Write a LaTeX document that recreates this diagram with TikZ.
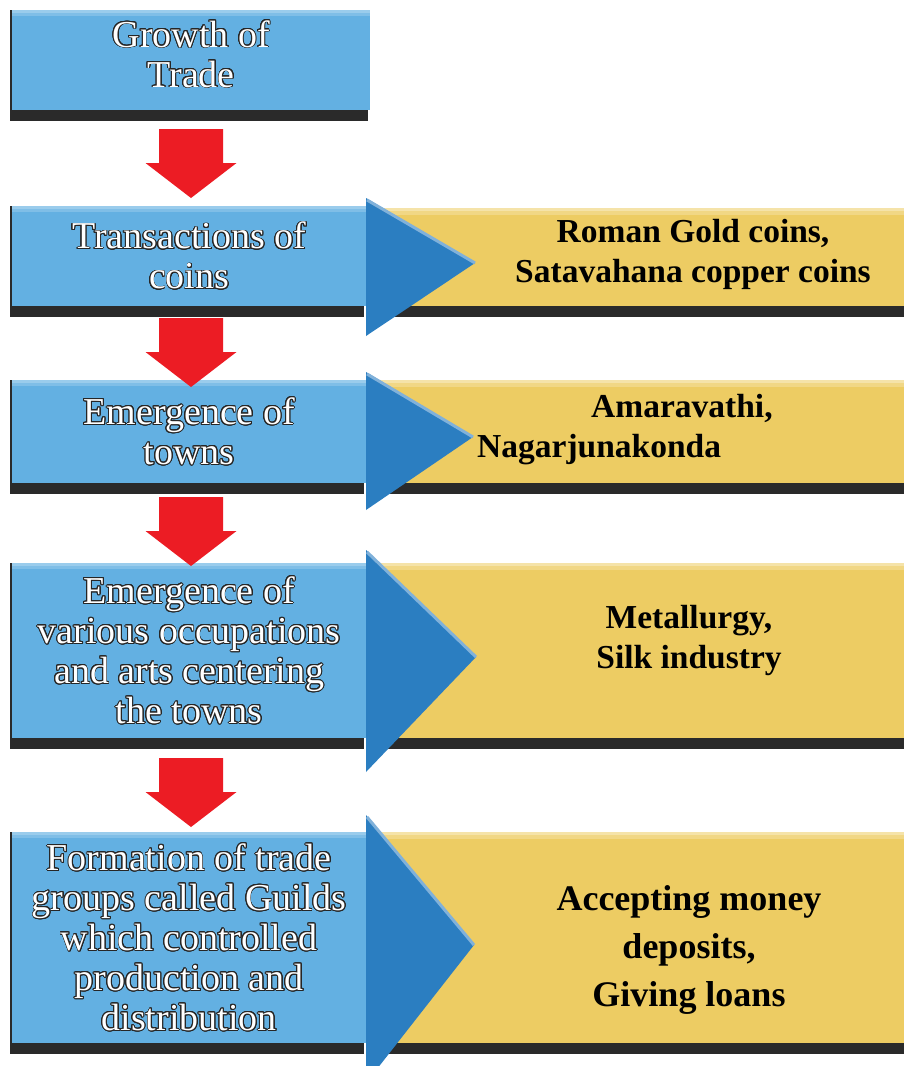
\documentclass[tikz,border=0pt]{standalone}
\usepackage{fontspec}
\setmainfont{Liberation Serif}
\usepackage[copies]{contour}
\usetikzlibrary{shadows}
\definecolor{boxblue}{HTML}{63B0E2}
\definecolor{tridark}{HTML}{2B7EC1}
\definecolor{bargold}{HTML}{EDCC63}
\definecolor{arrred}{HTML}{EC1C24}
\definecolor{shadowgrey}{HTML}{2A2A2A}
\contourlength{0.9pt}
\contournumber{20}
\newcommand{\emb}[1]{\contour{black!85}{#1}}
\newcommand{\flecheBas}[1]{\fill[arrred] (#1) ++(-32,0) -- ++(64,0) -- ++(0,34) -- ++(13.5,0) -- ++(-45.5,35) -- ++(-45.5,-35) -- ++(13.5,0) -- cycle;}
\newcommand{\pointe}[3]{\fill[tridark] (366,#1) -- (#2,#3) -- (366,{2*#3-#1+8}) -- cycle;
	\draw[line width=3pt,white!40!tridark] (367,{#1+2}) -- (#2,#3);}

\begin{document}
\begin{tikzpicture}[x=1pt,y=-1pt]
	\tikzstyle{blok}=[rectangle,fill=boxblue,anchor=north west,inner sep=0pt,text=white,align=center,font=\fontsize{38}{40}\selectfont,
		general shadow={fill=shadowgrey,shadow xshift=-2pt,shadow yshift=-11pt},
		general shadow={fill=shadowgrey,shadow xshift=-2pt},
		path picture={\fill[white!35!boxblue] (path picture bounding box.north west) rectangle ([yshift=-3pt]path picture bounding box.north east);
			\fill[white!18!boxblue] ([yshift=-3pt]path picture bounding box.north west) rectangle ([yshift=-6pt]path picture bounding box.north east);}]
	\tikzstyle{barre}=[rectangle,fill=bargold,anchor=north west,inner sep=0pt,minimum width=538pt,
		general shadow={fill=shadowgrey,shadow yshift=-11pt},
		path picture={\fill[white!45!bargold] (path picture bounding box.north west) rectangle ([yshift=-3pt]path picture bounding box.north east);
			\fill[white!22!bargold] ([yshift=-3pt]path picture bounding box.north west) rectangle ([yshift=-7pt]path picture bounding box.north east);}]
	\tikzstyle{note}=[inner sep=0pt,align=center,font=\bfseries\fontsize{33.5}{40}\selectfont]
	\useasboundingbox[fill=white] (0,0) rectangle (904,1066);
	% yellow bars
	\node[barre,minimum height=98pt] (y2) at (366,208){};
	\node[barre,minimum height=103pt] (y3) at (366,380){};
	\node[barre,minimum height=175pt] (y4) at (366,563){};
	\node[barre,minimum height=211pt] (y5) at (366,832){};
	% blue boxes
	\node[blok,minimum width=358pt,minimum height=100pt,text depth=13pt] (b1) at (12,10){\emb{Growth of}\\\emb{Trade}};
	\node[blok,minimum width=354pt,minimum height=100pt] (b2) at (12,206){\emb{Transactions of}\\\emb{coins}};
	\node[blok,minimum width=354pt,minimum height=103pt] (b3) at (12,380){\emb{Emergence of}\\\emb{towns}};
	\node[blok,minimum width=354pt,minimum height=175pt] (b4) at (12,563){\emb{Emergence of}\\\emb{various occupations}\\\emb{and arts centering}\\\emb{the towns}};
	\node[blok,minimum width=354pt,minimum height=211pt] (b5) at (12,832){\emb{Formation of trade}\\\emb{groups called Guilds}\\\emb{which controlled}\\\emb{production and}\\\emb{distribution}};
	% blue points
	\pointe{198}{475}{263}
	\pointe{372}{473}{437}
	\pointe{550}{476}{657}
	\pointe{815}{474}{945}
	% red arrows
	\coordinate (f1) at (191,129);
	\coordinate (f2) at (191,318);
	\coordinate (f3) at (191,497);
	\coordinate (f4) at (191,758);
	\flecheBas{f1}
	\flecheBas{f2}
	\flecheBas{f3}
	\flecheBas{f4}
	% notes
	\node[note] (n2) at (693,254){Roman Gold coins,\\Satavahana copper coins};
	\node[note,align=left,anchor=west] (n3) at (477,430){\hspace*{114pt}Amaravathi,\\Nagarjunakonda};
	\node[note] (n4) at (689,640){Metallurgy,\\Silk industry};
	\node[note,font=\bfseries\fontsize{36}{48}\selectfont] (n5) at (689,950){Accepting money\\deposits,\\Giving loans};
\end{tikzpicture}
\end{document}
